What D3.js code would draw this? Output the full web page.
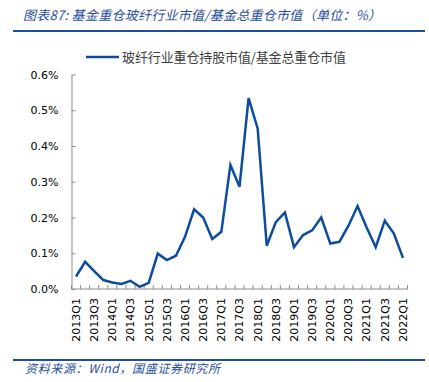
<!DOCTYPE html>
<html>
<head>
<meta charset="utf-8">
<script src="https://cdn.jsdelivr.net/npm/d3@7"></script>
<style>
  html, body { margin: 0; padding: 0; background: #fff; }
  svg { display: block; }
</style>
</head>
<body>
<svg id="chart" width="429" height="382"></svg>
<script>
// quarters 2013Q1 .. 2022Q1
const quarters = []
for (let y = 2013; y <= 2022; y++) {
  for (let q = 1; q <= 4; q++) {
    if (y === 2022 && q > 1) break
    quarters.push(`${y}Q${q}`)
  }
}

// 玻纤行业重仓持股市值/基金总重仓市值, in %
const ratio = [
  0.035, 0.076, 0.050, 0.025, 0.018, 0.014, 0.023, 0.006, 0.017, 0.099,
  0.081, 0.093, 0.146, 0.223, 0.200, 0.140, 0.160, 0.347, 0.286, 0.534,
  0.449, 0.121, 0.187, 0.214, 0.117, 0.151, 0.164, 0.200, 0.127, 0.132,
  0.177, 0.232, 0.172, 0.117, 0.191, 0.155, 0.087
]

const yTicks = [0, 0.1, 0.2, 0.3, 0.4, 0.5, 0.6]
const xLabels = quarters.filter((_, i) => i % 2 === 0)

const titleText = "图表87: 基金重仓玻纤行业市值/基金总重仓市值（单位：%）"
const legendText = "玻纤行业重仓持股市值/基金总重仓市值"
const sourceText = "资料来源：Wind，国盛证券研究所"

const blue = "#1f4e9e"
const lineBlue = "#0b4c9f"
const axisGrey = "#8c8c8c"
const latin = "'DejaVu Sans', sans-serif"
const cjk = "'Noto Sans CJK SC', sans-serif"

const svg = d3.select("#chart")

///// HEADER /////
svg.append("text")
  .attr("x", 23).attr("y", 20)
  .attr("fill", blue)
  .attr("font-family", cjk)
  .attr("font-style", "italic")
  .attr("font-size", 13)
  .attr("textLength", 358)
  .attr("lengthAdjust", "spacing")
  .text(titleText)

svg.append("line")
  .attr("x1", 13).attr("x2", 425)
  .attr("y1", 31).attr("y2", 31)
  .attr("stroke", blue).attr("stroke-width", 2)

// legend
svg.append("line")
  .attr("x1", 86).attr("x2", 119)
  .attr("y1", 57).attr("y2", 57)
  .attr("stroke", lineBlue).attr("stroke-width", 2.5)

svg.append("text")
  .attr("x", 122).attr("y", 61.5)
  .attr("fill", "#404040")
  .attr("font-family", cjk)
  .attr("font-size", 13)
  .attr("textLength", 224)
  .attr("lengthAdjust", "spacing")
  .text(legendText)

///// SCALES /////
const x = d3.scaleBand()
  .domain(quarters)
  .range([71.5, 407.5])
  .padding(0)

const y = d3.scaleLinear()
  .domain([0, 0.6])
  .range([289, 74.5])

///// AXES /////
const yAxis = svg.append("g")
  .attr("transform", `translate(${x.range()[0]},0)`)
  .call(d3.axisLeft(y)
    .tickValues(yTicks)
    .tickSize(-4)
    .tickSizeOuter(0)
    .tickPadding(13)
    .tickFormat(d => d.toFixed(1) + "%"))

yAxis.select(".domain").attr("stroke", axisGrey)
yAxis.selectAll(".tick line").attr("stroke", axisGrey)
yAxis.selectAll(".tick text")
  .attr("fill", "#000")
  .attr("font-family", latin)
  .attr("font-size", 11)

const xAxis = svg.append("g").attr("class", "x-axis")

xAxis.append("line")
  .attr("x1", x.range()[0]).attr("x2", x.range()[1])
  .attr("y1", y(0)).attr("y2", y(0))
  .attr("stroke", axisGrey)

// category boundary ticks pointing up
const bounds = quarters.map(q => x(q)).concat([x.range()[1]])
xAxis.selectAll("line.tick")
  .data(bounds)
  .enter().append("line")
    .attr("class", "tick")
    .attr("x1", d => d).attr("x2", d => d)
    .attr("y1", y(0)).attr("y2", y(0) - 4)
    .attr("stroke", axisGrey)

xAxis.selectAll("text")
  .data(xLabels)
  .enter().append("text")
    .attr("transform", d => `translate(${x(d) + x.bandwidth() / 2},${y(0) + 9}) rotate(-90)`)
    .attr("dy", "0.35em")
    .attr("text-anchor", "end")
    .attr("fill", "#000")
    .attr("font-family", latin)
    .attr("font-size", 11)
    .text(d => d)

///// SERIES /////
const line = d3.line()
  .x((d, i) => x(quarters[i]) + x.bandwidth() / 2)
  .y(d => y(d))

svg.append("path")
  .datum(ratio)
  .attr("d", line)
  .attr("fill", "none")
  .attr("stroke", lineBlue)
  .attr("stroke-width", 2.5)
  .attr("stroke-linejoin", "miter")

///// FOOTER /////
svg.append("line")
  .attr("x1", 13).attr("x2", 425)
  .attr("y1", 360).attr("y2", 360)
  .attr("stroke", blue).attr("stroke-width", 2)

svg.append("text")
  .attr("x", 25).attr("y", 372.5)
  .attr("fill", blue)
  .attr("font-family", cjk)
  .attr("font-style", "italic")
  .attr("font-size", 12)
  .attr("textLength", 195)
  .attr("lengthAdjust", "spacing")
  .text(sourceText)
</script>
</body>
</html>
